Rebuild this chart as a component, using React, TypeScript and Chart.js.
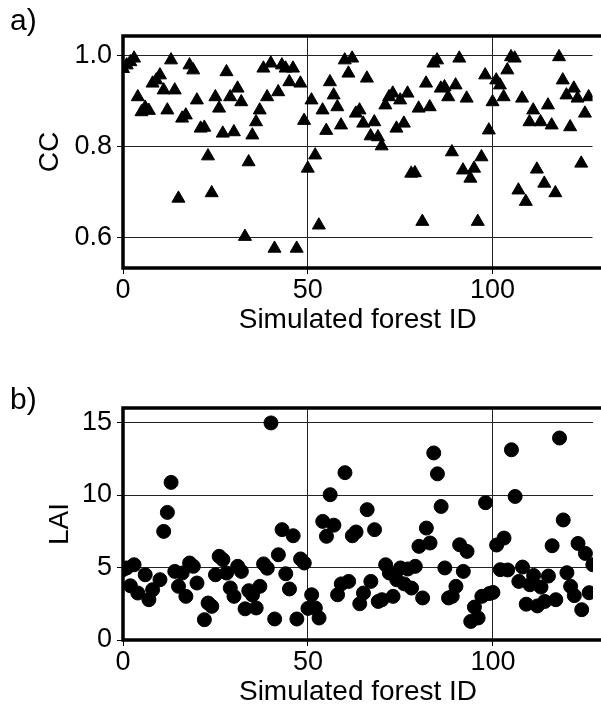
import React, { useEffect, useRef } from 'react';
import { Chart, registerables } from 'chart.js';

Chart.register(...registerables);

// ---------- data ----------
const ccIds = [
  0, 1, 2, 3, 4, 5, 6, 7, 8, 9,
  10, 11, 12, 13, 14, 15, 16, 17, 18, 19,
  20, 21, 22, 23, 24, 25, 26, 27, 28, 29,
  30, 31, 32, 33, 34, 35, 36, 37, 38, 39,
  40, 41, 42, 43, 44, 45, 46, 47, 48, 49,
  50, 51, 52, 53, 54, 55, 56, 57, 58, 59,
  60, 61, 62, 63, 64, 65, 66, 67, 68, 69,
  70, 71, 72, 73, 74, 75, 76, 77, 78, 79,
  80, 81, 82, 83, 84, 85, 86, 87, 88, 89,
  90, 91, 92, 93, 94, 95, 96, 97, 98, 99,
  100, 101, 102, 103, 104, 105, 106, 107, 108, 109,
  110, 111, 112, 113, 114, 115, 116, 117, 118, 119,
  120, 121, 122, 123, 124, 125, 126,
];
const ccValues = [
  0.970, 0.978, 0.985, 0.993, 0.908, 0.875, 0.885, 0.878, 0.938, 0.945,
  0.956, 0.923, 0.879, 0.989, 0.923, 0.685, 0.861, 0.868, 0.978, 0.967,
  0.901, 0.839, 0.841, 0.778, 0.697, 0.908, 0.883, 0.828, 0.963, 0.908,
  0.831, 0.927, 0.897, 0.601, 0.765, 0.824, 0.853, 0.879, 0.971, 0.908,
  0.982, 0.575, 0.919, 0.978, 0.971, 0.941, 0.971, 0.575, 0.938, 0.856,
  0.751, 0.901, 0.780, 0.626, 0.879, 0.834, 0.941, 0.912, 0.886, 0.846,
  0.989, 0.960, 0.993, 0.872, 0.879, 0.850, 0.949, 0.822, 0.853, 0.820,
  0.800, 0.890, 0.908, 0.916, 0.839, 0.901, 0.850, 0.916, 0.740, 0.741,
  0.883, 0.634, 0.938, 0.886, 0.982, 0.989, 0.927, 0.930, 0.908, 0.787,
  0.934, 0.993, 0.747, 0.905, 0.729, 0.751, 0.634, 0.776, 0.956, 0.835,
  0.897, 0.945, 0.934, 0.908, 0.967, 0.996, 0.993, 0.703, 0.905, 0.678,
  0.853, 0.879, 0.749, 0.853, 0.718, 0.890, 0.846, 0.697, 0.996, 0.945,
  0.912, 0.842, 0.927, 0.905, 0.762, 0.872, 0.908,
];

const laiIds = [
  0, 1, 2, 3, 4, 6, 7, 8, 10, 11,
  12, 13, 14, 15, 16, 17, 18, 19, 20, 22,
  23, 24, 25, 26, 27, 28, 29, 30, 31, 32,
  33, 34, 35, 36, 37, 38, 39, 40, 41, 42,
  43, 44, 45, 46, 47, 48, 49, 50, 51, 52,
  53, 54, 55, 56, 57, 58, 59, 60, 61, 62,
  63, 64, 65, 66, 67, 68, 69, 70, 71, 72,
  73, 74, 75, 76, 77, 78, 79, 80, 81, 82,
  83, 84, 85, 86, 87, 88, 89, 90, 91, 92,
  93, 94, 95, 96, 97, 98, 99, 100, 101, 102,
  103, 104, 105, 106, 107, 108, 109, 110, 111, 112,
  113, 114, 115, 116, 117, 118, 119, 120, 121, 122,
  123, 124, 125, 126, 127,
];
const laiValues = [
  4.85, 4.97, 3.74, 5.19, 3.24, 4.50, 2.78, 3.47, 4.16, 7.49,
  8.80, 10.87, 4.73, 3.70, 4.62, 3.01, 5.31, 5.08, 3.93, 1.40,
  2.55, 2.32, 4.50, 5.77, 5.54, 4.62, 3.59, 3.01, 5.08, 4.73,
  2.15, 3.40, 3.10, 2.21, 3.70, 5.25, 4.95, 14.97, 1.45, 5.88,
  7.61, 4.57, 3.52, 7.19, 1.45, 5.59, 5.31, 2.18, 3.12, 2.21,
  1.52, 8.18, 7.15, 10.02, 7.92, 3.12, 3.87, 11.54, 4.04, 7.19,
  7.45, 2.50, 3.24, 8.99, 4.04, 7.61, 2.66, 2.78, 5.19, 4.62,
  3.01, 4.15, 4.97, 3.87, 4.90, 3.58, 5.08, 6.46, 2.90, 7.72,
  6.69, 12.90, 11.46, 9.21, 4.97, 2.90, 3.01, 3.70, 6.57, 4.73,
  6.11, 1.28, 2.27, 1.52, 3.01, 9.47, 3.20, 3.28, 6.55, 4.85,
  7.03, 4.83, 13.12, 9.90, 4.04, 5.03, 2.47, 3.81, 4.45, 2.35,
  3.65, 2.66, 4.41, 6.50, 2.78, 13.93, 8.28, 4.64, 3.70, 3.06,
  6.66, 2.09, 5.97, 3.26, 5.19,
];

const xTickValues = [0, 50, 100];
const ccTickValues = [0.6, 0.8, 1.0];
const laiTickValues = [0, 5, 10, 15];

// ---------- styling ----------
const FONT = "'Liberation Sans', Arial, Helvetica, sans-serif";
const W = 601;
const H = 352;
const X_MIN = 0;
const X_MAX = 127.05;

const framePlugin = {
  id: 'frame',
  afterDatasetsDraw(chart: any) {
    const { ctx, chartArea } = chart;
    const { left, top, right, bottom } = chartArea;
    ctx.save();
    ctx.strokeStyle = '#000';
    ctx.lineWidth = 3.5;
    ctx.lineCap = 'square';
    ctx.beginPath();
    ctx.moveTo(right + 10, top);
    ctx.lineTo(left, top);
    ctx.lineTo(left, bottom);
    ctx.lineTo(right + 10, bottom);
    ctx.stroke();
    ctx.restore();
  },
};

type PanelProps = {
  ids: number[];
  values: number[];
  pointStyle: string;
  radius: number;
  yMin: number;
  yMax: number;
  yTicks: number[];
  yDecimals: number;
  yTitle: string;
  yTitlePad: number;
  padTop: number;
  areaBottom: number;
  xTitlePad: number;
};

function Panel(p: PanelProps) {
  const ref = useRef<HTMLCanvasElement | null>(null);
  useEffect(() => {
    if (!ref.current) return;
    const points = p.ids.map((id, i) => ({ x: id, y: p.values[i] }));
    const chart = new Chart(ref.current, {
      type: 'scatter',
      data: {
        datasets: [
          {
            data: points,
            pointStyle: p.pointStyle as any,
            pointRadius: p.radius,
            pointBorderWidth: 1,
            backgroundColor: '#000',
            borderColor: '#000',
          },
        ],
      },
      options: {
        animation: false,
        responsive: false,
        layout: { padding: { top: p.padTop, left: 0, right: 0, bottom: 0 } },
        plugins: { legend: { display: false }, tooltip: { enabled: false } },
        scales: {
          x: {
            type: 'linear',
            min: X_MIN,
            max: X_MAX,
            afterBuildTicks: (s: any) => {
              s.ticks = xTickValues.map((v) => ({ value: v }));
            },
            afterFit: (s: any) => {
              s.height = H - p.areaBottom;
            },
            grid: {
              color: '#222',
              lineWidth: 1,
              tickLength: 6,
              tickColor: '#000',
            },
            border: { display: false },
            ticks: {
              color: '#000',
              padding: 0,
              maxRotation: 0,
              font: { family: FONT, size: 27 },
              callback: (v: any) => String(v),
            },
            title: {
              display: true,
              text: 'Simulated forest ID',
              color: '#000',
              font: { family: FONT, size: 28, lineHeight: 0.85 },
              padding: { top: 0, bottom: p.xTitlePad },
            },
          },
          y: {
            type: 'linear',
            min: p.yMin,
            max: p.yMax,
            afterBuildTicks: (s: any) => {
              s.ticks = p.yTicks.map((v) => ({ value: v }));
            },
            afterFit: (s: any) => {
              s.width = 123;
            },
            grid: {
              color: '#222',
              lineWidth: 1,
              tickLength: 6,
              tickColor: '#000',
            },
            border: { display: false },
            ticks: {
              color: '#000',
              padding: 5,
              font: { family: FONT, size: 27 },
              callback: (v: any) => Number(v).toFixed(p.yDecimals),
            },
            title: {
              display: true,
              text: p.yTitle,
              color: '#000',
              font: { family: FONT, size: 28, lineHeight: 0.85 },
              padding: { top: p.yTitlePad, bottom: 0 },
            },
          },
        },
      },
      plugins: [framePlugin],
    });
    return () => chart.destroy();
  }, []);
  return <canvas ref={ref} width={W} height={H} style={{ display: 'block', width: W, height: H }} />;
}

const labelStyle: React.CSSProperties = {
  position: 'absolute',
  left: 10,
  fontFamily: FONT,
  fontSize: 30,
  lineHeight: '32px',
  color: '#000',
};

export default function App() {
  return (
    <div
      style={{
        position: 'fixed',
        left: 0,
        top: 0,
        width: W,
        height: 704,
        overflow: 'hidden',
        background: '#fff',
      }}
    >
      <div style={{ position: 'absolute', left: 0, top: 0 }}>
        <Panel
          ids={ccIds}
          values={ccValues}
          pointStyle="triangle"
          radius={7.5}
          yMin={0.532}
          yMax={1.042}
          yTicks={ccTickValues}
          yDecimals={1}
          yTitle="CC"
          yTitlePad={38}
          padTop={36}
          areaBottom={268}
          xTitlePad={20}
        />
      </div>
      <div style={{ position: 'absolute', left: 0, top: 352 }}>
        <Panel
          ids={laiIds}
          values={laiValues}
          pointStyle="circle"
          radius={7}
          yMin={0}
          yMax={16}
          yTicks={laiTickValues}
          yDecimals={0}
          yTitle="LAI"
          yTitlePad={48}
          padTop={56}
          areaBottom={288}
          xTitlePad={0}
        />
      </div>
      <div style={{ ...labelStyle, top: 4 }}>a)</div>
      <div style={{ ...labelStyle, top: 383 }}>b)</div>
    </div>
  );
}
